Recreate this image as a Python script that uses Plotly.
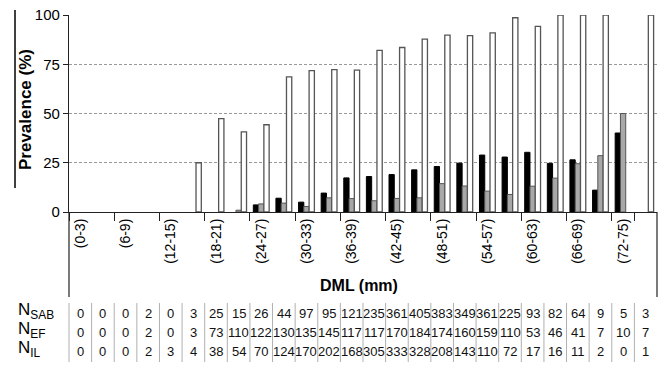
import plotly.graph_objects as go

# ---- data ----
categories = ["(%d-%d)" % (3 * i, 3 * i + 3) for i in range(26)]
label_categories = categories[::2]

prev_sab = [None, None, None, 0, None, 0, 0, 0, 3.6, 7.0, 5.0, 9.6, 17.3, 18.0, 19.0, 21.4,
            23.1, 24.8, 28.9, 27.9, 30.3, 24.7, 26.5, 11.1, 40.1, 0]
prev_ef = [None, None, None, 0, None, 0, 0, 0.9, 4.1, 4.5, 2.8, 7.2, 6.8, 5.7, 6.9, 7.2,
           14.4, 13.2, 10.6, 8.9, 13.1, 17.2, 24.5, 28.6, 50.0, 0]
prev_il = [None, None, None, 0, 0, 25.0, 47.4, 40.7, 44.3, 68.6, 71.8, 72.3, 72.0, 82.0, 83.5, 87.8,
           89.8, 89.5, 90.9, 98.6, 94.2, 100, 100, 100, None, 100]

n_sab = [0, 0, 0, 2, 0, 3, 25, 15, 26, 44, 97, 95, 121, 235, 361, 405, 383, 349, 361, 225, 93, 82, 64, 9, 5, 3]
n_ef = [0, 0, 0, 2, 0, 3, 73, 110, 122, 130, 135, 145, 117, 117, 170, 184, 174, 160, 159, 110, 53, 46, 41, 7, 10, 7]
n_il = [0, 0, 0, 2, 3, 4, 38, 54, 70, 124, 170, 202, 168, 305, 333, 328, 208, 143, 110, 72, 17, 16, 11, 2, 0, 1]

row_labels = ["N<sub>SAB</sub>", "N<sub>EF</sub>", "N<sub>IL</sub>"]
y_ticks = [0, 25, 50, 75, 100]

FONT = "Arial, Liberation Sans, sans-serif"

# ---- layout geometry (pixels) ----
W, H = 664, 368
ML, MR, MT, MB = 69, 7, 15, 156
PW, PH = W - ML - MR, H - MT - MB
y_bottom_px = MT + PH


def py(p):
    """pixel y -> paper y"""
    return (y_bottom_px - p) / PH


def px(p):
    """pixel x -> paper x"""
    return (p - ML) / PW


def outline_widths(vals, w):
    # zero-height bars are not outlined in the original chart
    return [0 if (v is None or v == 0) else w for v in vals]


fig = go.Figure()
fig.add_trace(go.Bar(x=categories, y=prev_sab, name="SAB",
                     marker=dict(color="#000000",
                                 line=dict(color="#000000", width=outline_widths(prev_sab, 1)))))
fig.add_trace(go.Bar(x=categories, y=prev_ef, name="EF",
                     marker=dict(color="#a8a8a8",
                                 line=dict(color="#555555", width=outline_widths(prev_ef, 1)))))
fig.add_trace(go.Bar(x=categories, y=prev_il, name="IL",
                     marker=dict(color="#ffffff",
                                 line=dict(color="#555555", width=outline_widths(prev_il, 1.3)))))

annotations = []
# table values
row_y = [py(313.5), py(332), py(351)]
for vals, yy in zip([n_sab, n_ef, n_il], row_y):
    for c, v in zip(categories, vals):
        annotations.append(dict(x=c, y=yy, xref="x", yref="paper", text=str(v), showarrow=False,
                                xanchor="center", yanchor="middle",
                                font=dict(family=FONT, size=13, color="#111111")))
# row labels
for lab, yy in zip(row_labels, row_y):
    annotations.append(dict(x=px(16), y=yy + 0.012, xref="paper", yref="paper", text=lab, showarrow=False,
                            xanchor="left", yanchor="middle",
                            font=dict(family=FONT, size=17, color="#000000")))
# x title
annotations.append(dict(x=px(359), y=py(285), xref="paper", yref="paper", text="<b>DML (mm)</b>",
                        showarrow=False, xanchor="center", yanchor="middle",
                        font=dict(family=FONT, size=16, color="#000000")))
# y title
annotations.append(dict(x=px(25), y=py(110), xref="paper", yref="paper", text="<b>Prevalence (%)</b>",
                        showarrow=False, xanchor="center", yanchor="middle", textangle=-90,
                        font=dict(family=FONT, size=17, color="#000000")))

shapes = []
# vertical line at far left
shapes.append(dict(type="line", xref="paper", yref="paper", x0=px(15), x1=px(15), y0=py(188), y1=py(10),
                   line=dict(color="#000000", width=1.5)))
# frame lines around label area
for xx in (0, 1):
    shapes.append(dict(type="line", xref="paper", yref="paper", x0=xx, x1=xx, y0=0, y1=py(297),
                       line=dict(color="#222222", width=1.2)))
# table column separators
n = len(categories)
for j in range(n):
    shapes.append(dict(type="line", xref="paper", yref="paper", x0=j / n, x1=j / n, y0=py(303), y1=py(362),
                       line=dict(color="#b0b0b0", width=1)))

fig.update_layout(
    width=W, height=H,
    margin=dict(l=ML, r=MR, t=MT, b=MB, pad=0),
    paper_bgcolor="white", plot_bgcolor="white",
    barmode="group", bargap=0.3, bargroupgap=0,
    showlegend=False,
    font=dict(family=FONT, color="#000000"),
    annotations=annotations, shapes=shapes,
    xaxis=dict(type="category", categoryorder="array", categoryarray=categories,
               tickmode="array", tickvals=label_categories, ticktext=label_categories,
               tickangle=-90, tickson="boundaries", ticks="outside", ticklen=8, tickwidth=1,
               tickcolor="#222222", showline=True, linecolor="#222222", linewidth=1.2,
               showgrid=False, tickfont=dict(family=FONT, size=14, color="#000000")),
    yaxis=dict(range=[0, 100], tickmode="array", tickvals=y_ticks, ticks="outside", ticklen=5,
               tickcolor="#222222", showline=True, linecolor="#222222", linewidth=1.2,
               showgrid=True, gridcolor="#999999", gridwidth=1, griddash="3px,2px",
               zeroline=False, tickfont=dict(family=FONT, size=15, color="#000000")),
)

fig.write_html("out.html", config={"displayModeBar": False},
               post_script="document.body.style.margin='0';document.body.style.overflow='hidden';")
